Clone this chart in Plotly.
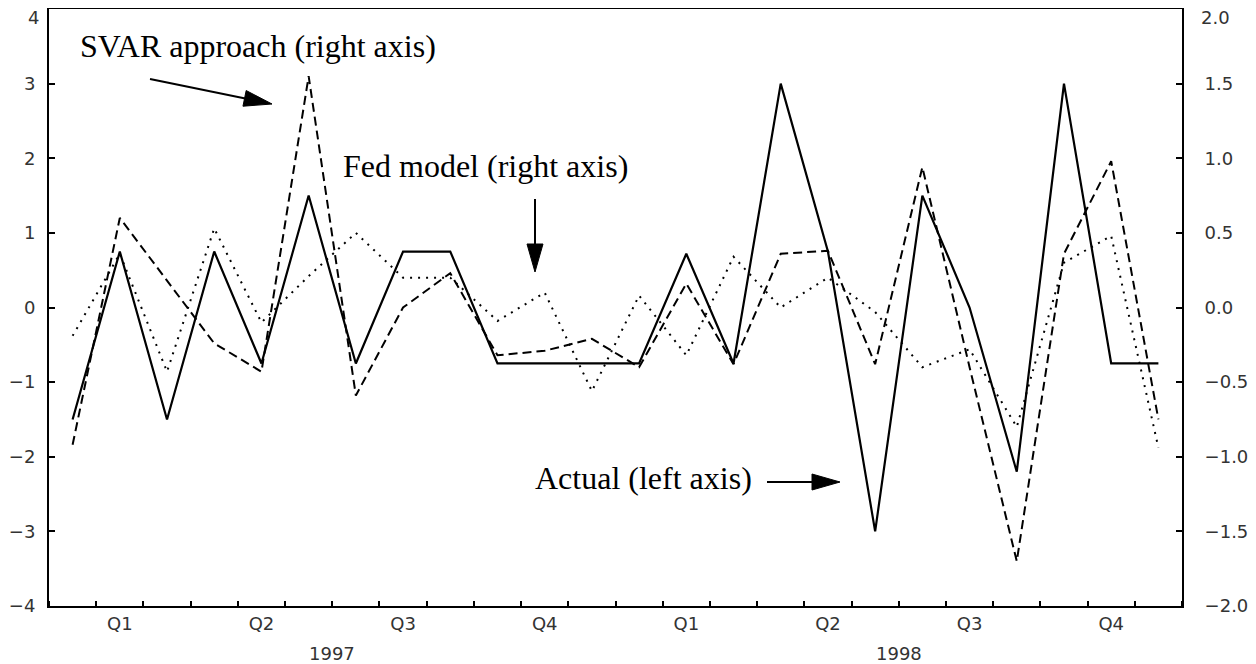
import plotly.graph_objects as go

# ---------------- data ----------------
months = ["1997-01", "1997-02", "1997-03", "1997-04", "1997-05", "1997-06",
          "1997-07", "1997-08", "1997-09", "1997-10", "1997-11", "1997-12",
          "1998-01", "1998-02", "1998-03", "1998-04", "1998-05", "1998-06",
          "1998-07", "1998-08", "1998-09", "1998-10", "1998-11", "1998-12"]

# Actual (left axis)
actual = [-1.5, 0.75, -1.5, 0.75, -0.75, 1.5, -0.75, 0.75, 0.75, -0.75, -0.75, -0.75,
          -0.75, 0.72, -0.75, 3.0, 0.75, -3.0, 1.5, 0.0, -2.2, 3.0, -0.75, -0.75]
# SVAR approach (right axis)
svar = [-0.92, 0.60, 0.18, -0.24, -0.43, 1.55, -0.59, 0.0, 0.23, -0.32, -0.29, -0.21,
        -0.40, 0.16, -0.38, 0.36, 0.38, -0.38, 0.94, -0.40, -1.70, 0.36, 0.98, -0.75]
# Fed model (right axis)
fed = [-0.19, 0.36, -0.43, 0.53, -0.10, 0.21, 0.50, 0.20, 0.20, -0.09, 0.10, -0.56,
       0.08, -0.32, 0.34, 0.0, 0.20, -0.03, -0.40, -0.28, -0.80, 0.30, 0.48, -0.94]

quarter_labels = ["Q1", "Q2", "Q3", "Q4", "Q1", "Q2", "Q3", "Q4"]
year_labels = ["1997", "1998"]
left_tickvals = [-4, -3, -2, -1, 0, 1, 2, 3, 4]
left_ticktext = ["\u22124", "\u22123", "\u22122", "\u22121", "0", "1", "2", "3", "4"]
right_tickvals = [-2.0, -1.5, -1.0, -0.5, 0.0, 0.5, 1.0, 1.5, 2.0]
right_ticktext = ["\u22122.0", "\u22121.5", "\u22121.0", "\u22120.5", "0.0", "0.5", "1.0", "1.5", "2.0"]

# ---------------- geometry ----------------
# the page body adds an 8px offset; screen coordinates are converted below
OFF = 8
W, H = 1256 - OFF, 664 - OFF
PL, PR, PT, PB = 49, 1182, 9, 606            # plot area on screen
ML, MT = PL - OFF, PT - OFF
MR, MB = W - (PR - OFF), H - (PB - OFF)
PW, PH = PR - PL, PB - PT

n = len(months)
xpos = [i + 0.5 for i in range(n)]
quarter_bounds = list(range(0, n + 1, 3))
quarter_centers = [q + 1.5 for q in range(0, n, 3)]
year_centers = [6, 18]

TICKFONT = dict(family="DejaVu Sans", size=18, color="#333333")

fig = go.Figure()
fig.add_trace(go.Scatter(x=xpos, y=actual, mode="lines", name="Actual",
                         line=dict(color="black", width=2.2), xaxis="x", yaxis="y"))
fig.add_trace(go.Scatter(x=xpos, y=svar, mode="lines", name="SVAR approach",
                         line=dict(color="black", width=2, dash="9px,5px"), xaxis="x", yaxis="y2"))
fig.add_trace(go.Scatter(x=xpos, y=fed, mode="lines", name="Fed model",
                         line=dict(color="black", width=2, dash="2px,6px"), xaxis="x", yaxis="y2"))


def paper(px, py):
    """screen pixel -> paper coordinates"""
    return (px - PL) / PW, (PB - py) / PH


shapes = []
annotations = []


def arrow(tail, tip, L=28, Wd=16):
    tx, ty = tail
    hx, hy = tip
    dx, dy = hx - tx, hy - ty
    d = (dx * dx + dy * dy) ** 0.5
    ux, uy = dx / d, dy / d
    nx, ny = -uy, ux
    bx, by = hx - L * ux, hy - L * uy
    p0 = paper(tx, ty)
    p1 = paper(bx + 2 * ux, by + 2 * uy)
    shapes.append(dict(type="line", xref="paper", yref="paper", x0=p0[0], y0=p0[1],
                       x1=p1[0], y1=p1[1], line=dict(color="black", width=2)))
    c1 = paper(bx + Wd / 2 * nx, by + Wd / 2 * ny)
    c2 = paper(bx - Wd / 2 * nx, by - Wd / 2 * ny)
    t = paper(hx, hy)
    path = f"M{c1[0]},{c1[1]} L{t[0]},{t[1]} L{c2[0]},{c2[1]} Z"
    shapes.append(dict(type="path", xref="paper", yref="paper", path=path,
                       fillcolor="black", line=dict(color="black", width=1)))


def label(text, px, py):
    x, y = paper(px, py)
    annotations.append(dict(text=text, xref="paper", yref="paper", x=x, y=y,
                            xanchor="left", yanchor="middle", showarrow=False,
                            font=dict(family="Liberation Serif", size=32, color="black")))


label("SVAR approach (right axis)", 78, 46)
label("Fed model (right axis)", 341, 166)
label("Actual (left axis)", 533, 478)
arrow((150, 79), (272, 104))
arrow((535, 199), (535, 272))
arrow((767, 482), (840, 482))

# year labels under the quarter labels
for xc, yl in zip(year_centers, year_labels):
    annotations.append(dict(text=yl, x=xc, xref="x", y=0, yref="paper",
                            yanchor="middle", xanchor="center", yshift=-(653 - PB),
                            showarrow=False, font=TICKFONT))

# top-most axis labels are kept inside the frame (as in the reference)
ytop = (PB - 18) / PH
annotations.append(dict(text=left_ticktext[-1], xref="paper", yref="paper", x=0, y=ytop,
                        xanchor="right", yanchor="middle", xshift=-8, showarrow=False,
                        font=TICKFONT))
annotations.append(dict(text=right_ticktext[-1], xref="paper", yref="paper", x=1, y=ytop,
                        xanchor="left", yanchor="middle", xshift=17, showarrow=False,
                        font=TICKFONT))

fig.update_layout(
    width=W, height=H,
    margin=dict(l=ML, r=MR, t=MT, b=MB, pad=0, autoexpand=False),
    paper_bgcolor="white", plot_bgcolor="white",
    showlegend=False,
    shapes=shapes, annotations=annotations,
    xaxis=dict(range=[0, n], showgrid=False, zeroline=False, automargin=False,
               showline=True, linecolor="black", linewidth=2, mirror=True,
               tickmode="array", tickvals=quarter_centers, ticktext=quarter_labels,
               ticks="", ticklabelstandoff=0, tickfont=TICKFONT,
               minor=dict(ticks="inside", ticklen=5, tickwidth=1.5, tickcolor="black",
                          tickmode="linear", tick0=0, dtick=1, showgrid=False)),
    xaxis2=dict(range=[0, n], overlaying="x", anchor="y", side="bottom", automargin=False,
                showgrid=False, zeroline=False, showline=False,
                tickmode="array", tickvals=quarter_bounds, ticks="inside",
                ticklen=10, tickwidth=1.5, tickcolor="black", showticklabels=False),
    xaxis3=dict(range=[0, n], overlaying="x", anchor="y", side="bottom", automargin=False,
                showgrid=False, zeroline=False, showline=False,
                tickmode="array", tickvals=[12], ticks="inside",
                ticklen=15, tickwidth=1.5, tickcolor="black", showticklabels=False),
    yaxis=dict(range=[-4, 4], showgrid=False, zeroline=False, automargin=False,
               showline=True, linecolor="black", linewidth=2,
               tickmode="array", tickvals=left_tickvals,
               ticktext=left_ticktext[:-1] + [""],
               ticks="inside", ticklen=6, tickwidth=1.5, tickcolor="black",
               ticklabelstandoff=8, tickfont=TICKFONT),
    yaxis2=dict(range=[-2, 2], overlaying="y", side="right", anchor="x", automargin=False,
                showgrid=False, zeroline=False,
                showline=True, linecolor="black", linewidth=2,
                tickmode="array", tickvals=right_tickvals,
                ticktext=right_ticktext[:-1] + [""],
                ticks="inside", ticklen=6, tickwidth=1.5, tickcolor="black",
                ticklabelstandoff=17, tickfont=TICKFONT),
)

fig.write_html("out.html")
